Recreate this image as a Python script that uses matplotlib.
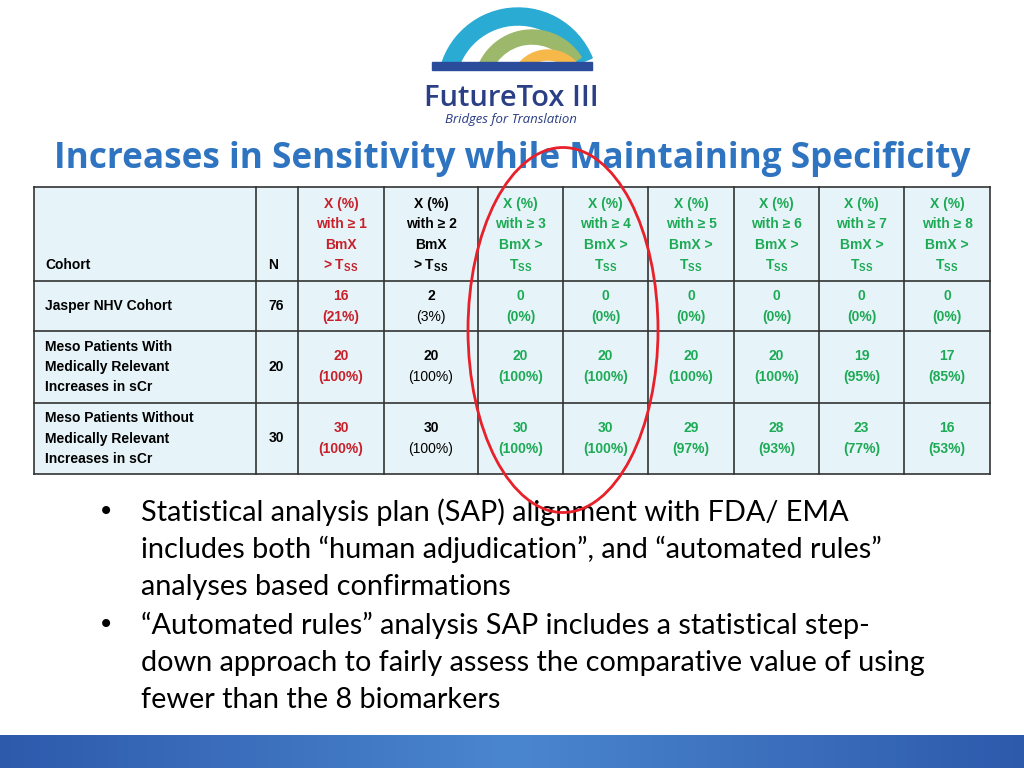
import matplotlib
matplotlib.use("Agg")
import matplotlib.pyplot as plt
from matplotlib.patches import Ellipse, Wedge, Rectangle
import numpy as np

cohorts = ["Jasper NHV Cohort", "Meso Patients With\nMedically Relevant\nIncreases in sCr",
           "Meso Patients Without\nMedically Relevant\nIncreases in sCr"]
n_values = [76, 20, 30]
thresholds = [1, 2, 3, 4, 5, 6, 7, 8]
counts = [[16, 2, 0, 0, 0, 0, 0, 0],
          [20, 20, 20, 20, 20, 20, 19, 17],
          [30, 30, 30, 30, 29, 28, 23, 16]]
percents = [[21, 3, 0, 0, 0, 0, 0, 0],
            [100, 100, 100, 100, 100, 100, 95, 85],
            [100, 100, 100, 100, 97, 93, 77, 53]]
bullets = [["Statistical analysis plan (SAP) alignment with FDA/ EMA",
            "includes both \u201chuman adjudication\u201d, and \u201cautomated rules\u201d",
            "analyses based confirmations"],
           ["\u201cAutomated rules\u201d analysis SAP includes a statistical step-",
            "down approach to fairly assess the comparative value of using",
            "fewer than the 8 biomarkers"]]

plt.rcParams["mathtext.fontset"] = "custom"
plt.rcParams["mathtext.rm"] = "Liberation Sans:bold"
plt.rcParams["mathtext.bf"] = "Liberation Sans:bold"

fig = plt.figure(figsize=(10.24, 7.68), dpi=100)
ax = fig.add_axes([0, 0, 1, 1])
ax.set_xlim(0, 1024); ax.set_ylim(768, 0); ax.axis("off")

# logo
ax.add_patch(Wedge((518, 88), 80, 180, 338, width=17, color="#29ABD4", zorder=2))
ax.add_patch(Wedge((532, 88), 58, 180, 328, width=14, color="#9CB86B", zorder=2))
ax.add_patch(Wedge((548, 88), 38, 185, 318, width=10, color="#F7B84A", zorder=2))
ax.add_patch(Rectangle((420, 70), 200, 50, color="white", zorder=2.5))
ax.add_patch(Rectangle((432, 62), 160, 8, color="#2B4C9B", zorder=3))
ax.text(511, 98, "FutureTox III", ha="center", va="center", fontsize=21, color="#2B3F86",
        family="Open Sans", fontweight="semibold", zorder=4)
ax.text(511, 120, "Bridges for Translation", ha="center", va="center", fontsize=9.5, color="#2B3F86",
        family="Open Sans", style="italic", zorder=4)

ax.text(512, 159, "Increases in Sensitivity while Maintaining Specificity", ha="center", va="center",
        fontsize=25.3, color="#2E74C0", family="Open Sans", fontweight="bold")

# table
xs = [34, 256, 298, 384, 478, 563, 648, 734, 819, 904, 990]
ys = [187, 281, 331, 403, 474]
ax.add_patch(Rectangle((34, 187), 956, 287, facecolor="#E6F4F9", edgecolor="none", zorder=0.5))
for x in xs:
    ax.plot([x, x], [ys[0], ys[-1]], color="#333333", lw=1.2, zorder=5)
for y in ys:
    ax.plot([xs[0], xs[-1]], [y, y], color="#333333", lw=1.2, zorder=5)

def colcolor(j):
    return "#C8202A" if j == 0 else ("black" if j == 1 else "#1DAA55")

fs = 10
ax.text(45, 265, "Cohort", ha="left", va="center", fontsize=fs, family="Liberation Sans", fontweight="bold")
ax.text(273, 265, "N", ha="center", va="center", fontsize=fs, family="Liberation Sans", fontweight="bold")
for j, t in enumerate(thresholds):
    xc = (xs[j+2] + xs[j+3]) / 2
    c = colcolor(j)
    if j < 2:
        lines = ["X (%)", "with \u2265 %d" % t, "BmX", r"> T$_{\mathrm{SS}}$"]
    else:
        lines = ["X (%)", "with \u2265 %d" % t, "BmX >", r"T$_{\mathrm{SS}}$"]
    for k, l in enumerate(lines):
        ax.text(xc, 204 + k*20.5, l, ha="center", va="center", fontsize=fs, color=c,
                family="Liberation Sans", fontweight="bold")

for i, name in enumerate(cohorts):
    yc = (ys[i+1] + ys[i+2]) / 2
    ax.text(45, yc, name, ha="left", va="center", fontsize=fs, family="Liberation Sans",
            fontweight="bold", linespacing=1.55)
    ax.text(276, yc, str(n_values[i]), ha="center", va="center", fontsize=fs,
            family="Liberation Sans", fontweight="bold")
    for j in range(len(thresholds)):
        xc = (xs[j+2] + xs[j+3]) / 2
        c = colcolor(j)
        ax.text(xc, yc - 10.5, str(counts[i][j]), ha="center", va="center", fontsize=fs, color=c,
                family="Liberation Sans", fontweight="bold")
        ax.text(xc, yc + 10.5, "(%d%%)" % percents[i][j], ha="center", va="center", fontsize=fs, color=c,
                family="Liberation Sans", fontweight=("bold" if j != 1 else "normal"))

ax.add_patch(Ellipse((563, 330), 190, 365, fill=False, edgecolor="#E8202A", lw=2, zorder=6))

# bullets
by = [512, 625]
for b, y0 in zip(bullets, by):
    ax.text(106, y0, "\u2022", ha="center", va="center", fontsize=20, family="DejaVu Sans")
    for k, line in enumerate(b):
        ax.text(141, y0 + k*37.5, line, ha="left", va="center", fontsize=20.8, family="Lato")

# bottom bar
grad = np.linspace(0, 1, 256).reshape(1, -1)
ax.imshow(grad, extent=[0, 1024, 768, 735], cmap=matplotlib.colors.LinearSegmentedColormap.from_list(
    "g", ["#2E5AAC", "#4A86CF", "#2E5AAC"]), aspect="auto", zorder=1)
ax.set_xlim(0, 1024); ax.set_ylim(768, 0)

fig.savefig("out.png", dpi=100)
